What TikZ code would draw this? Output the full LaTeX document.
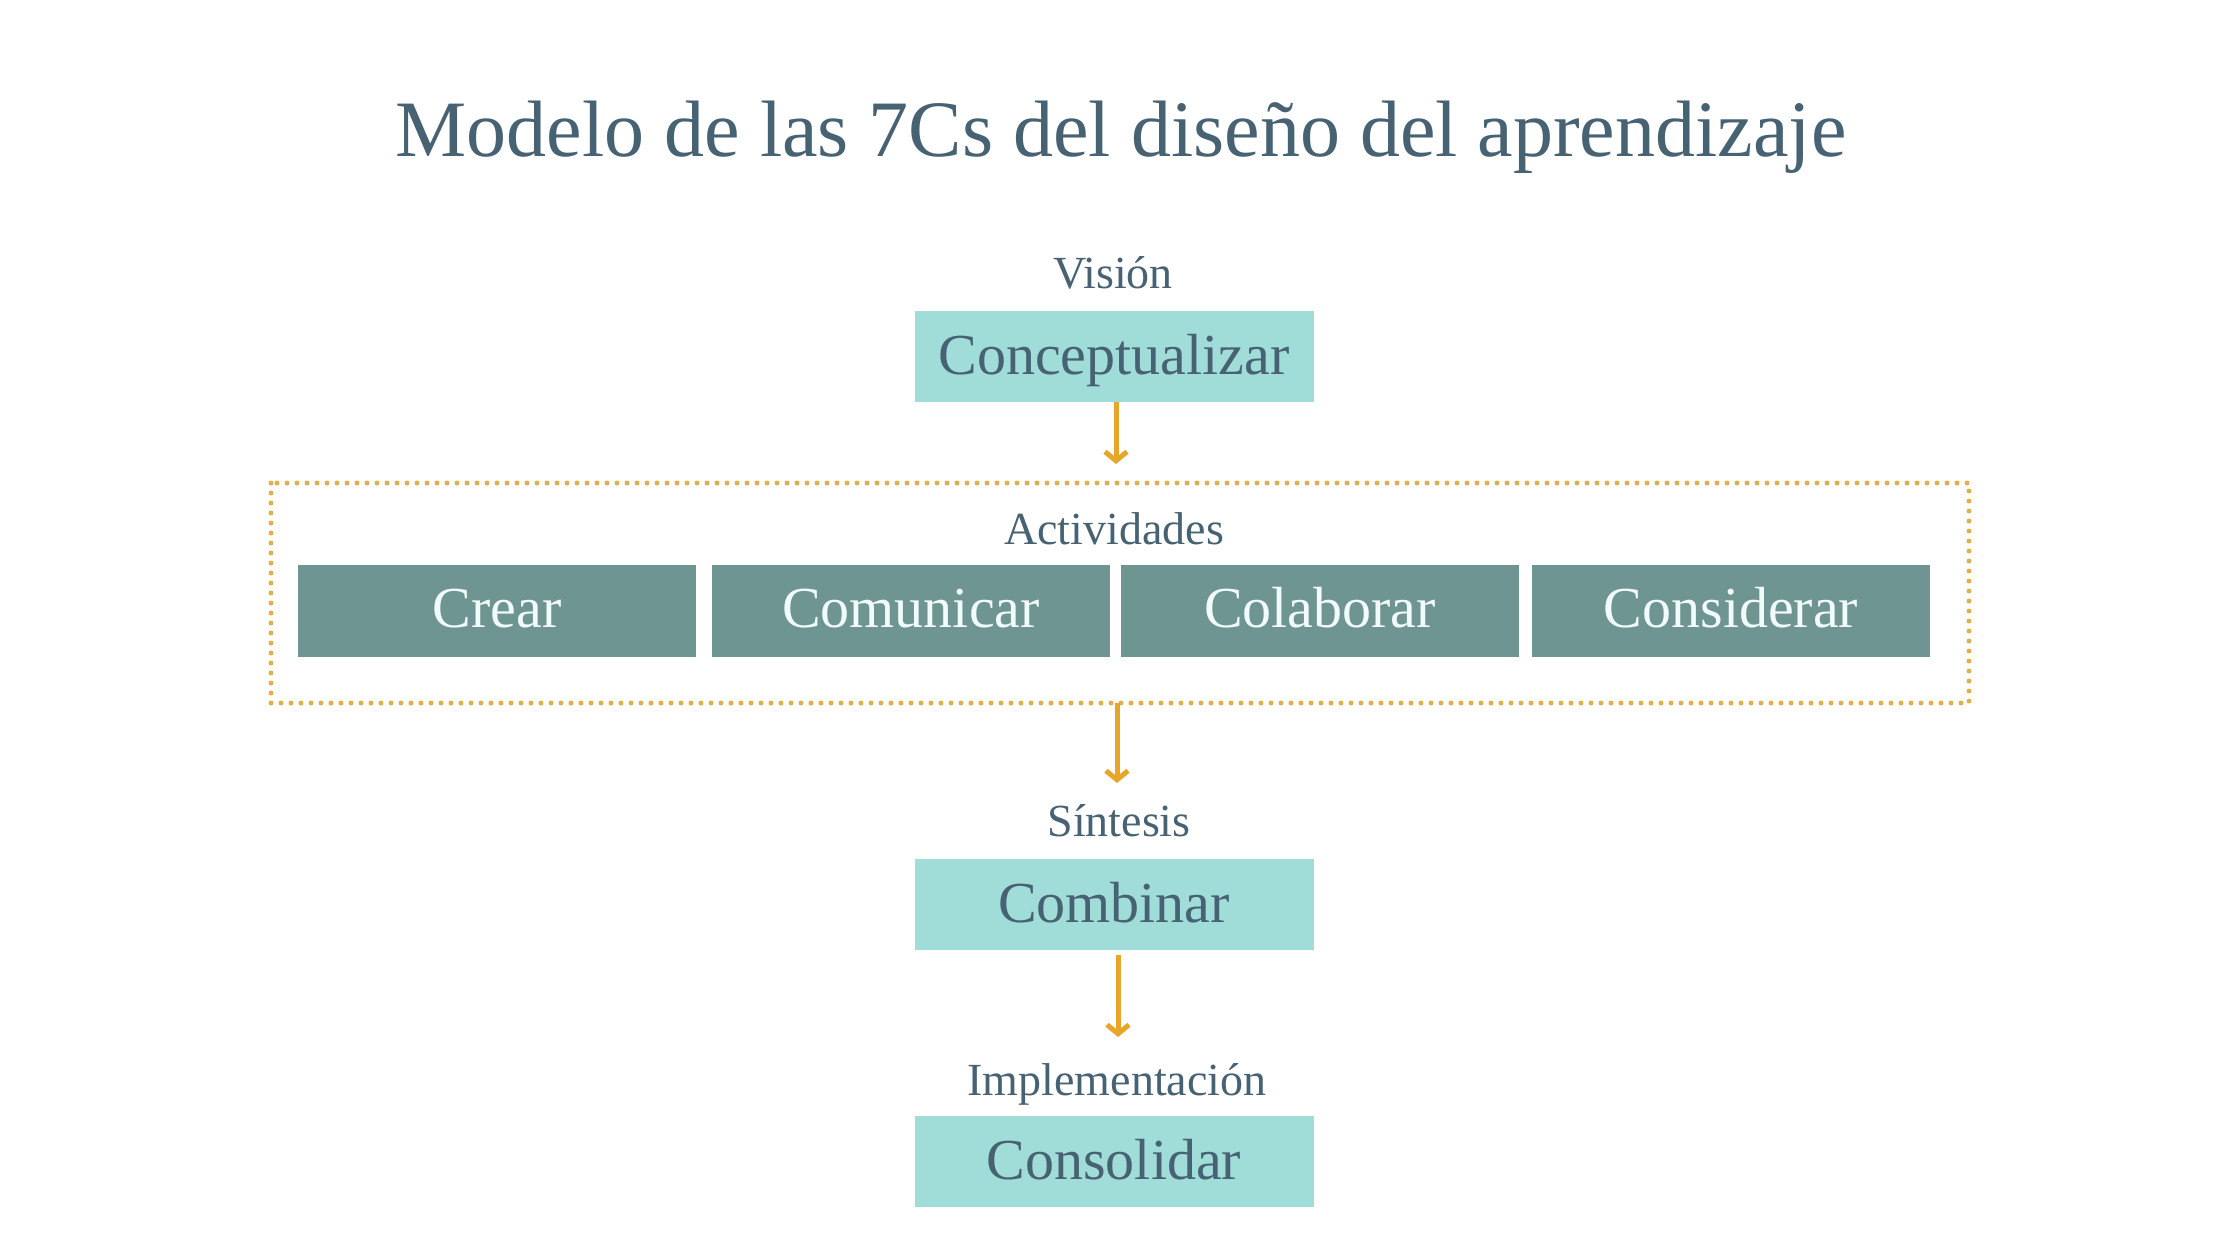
\documentclass[tikz,border=0pt]{standalone}
\usepackage{fontspec}
\setmainfont{Liberation Serif}
\usetikzlibrary{arrows.meta}
\definecolor{titlec}{HTML}{476273}
\definecolor{lightbox}{HTML}{A0DCD8}
\definecolor{darkbox}{HTML}{6E9592}
\definecolor{arrowc}{HTML}{E8A628}
\definecolor{dotc}{HTML}{DDB24C}
\definecolor{boxtext}{HTML}{F2FBFB}
\begin{document}
\begin{tikzpicture}[x=1pt,y=-1pt,
  lightstep/.style={fill=lightbox, minimum width=399pt, minimum height=91pt, inner sep=0pt,
    text=titlec, font=\fontsize{58}{64}\selectfont, text height=52pt, text depth=15pt},
  darkstep/.style={fill=darkbox, minimum width=398pt, minimum height=92pt, inner sep=0pt,
    text=boxtext, font=\fontsize{58}{64}\selectfont, text height=50pt, text depth=18pt},
  phaselabel/.style={anchor=base, inner sep=0pt, text=titlec, font=\fontsize{46}{52}\selectfont},
  flow/.style={draw=arrowc, line width=5pt, -{Straight Barb[length=9pt,width=22pt,line width=5pt]}},
  dotframe/.style={draw=dotc, line width=5pt, line cap=round, dash pattern=on 0pt off 10pt}
]
\useasboundingbox[fill=white] (0,0) rectangle (2240,1260);

\node[anchor=base, inner sep=0pt, text=titlec, font=\fontsize{80}{96}\selectfont] (title) at (1121,157) {Modelo de las 7Cs del diseño del aprendizaje};

\node[phaselabel] (vision) at (1113,288) {Visión};
\node[lightstep] (concept) at (1114,356) {Conceptualizar};

\draw[dotframe] (271,483) rectangle (1969,703);
\coordinate (acttop) at (1116,464);
\coordinate (actbot) at (1117,703);
\node[phaselabel] (activ) at (1114,544) {Actividades};
\node[darkstep] (crear) at (497,611) {Crear};
\node[darkstep] (comun) at (911,611) {Comunicar};
\node[darkstep] (colab) at (1320,611) {Colaborar};
\node[darkstep] (consid) at (1731,611) {Considerar};

\node[phaselabel] (sintesis) at (1119,836) {Síntesis};
\node[lightstep] (combinar) at (1114,904) {Combinar};
\coordinate (sintop) at (1117,783);

\coordinate (combbot) at (1118,955);
\coordinate (impltop) at (1118,1037);
\node[phaselabel] (impl) at (1117,1095) {Implementación};
\node[lightstep] (consol) at (1114,1161) {Consolidar};

\draw[flow] (concept.south -| acttop) -- (acttop);
\draw[flow] (actbot) -- (sintop);
\draw[flow] (combbot) -- (impltop);
\end{tikzpicture}
\end{document}
